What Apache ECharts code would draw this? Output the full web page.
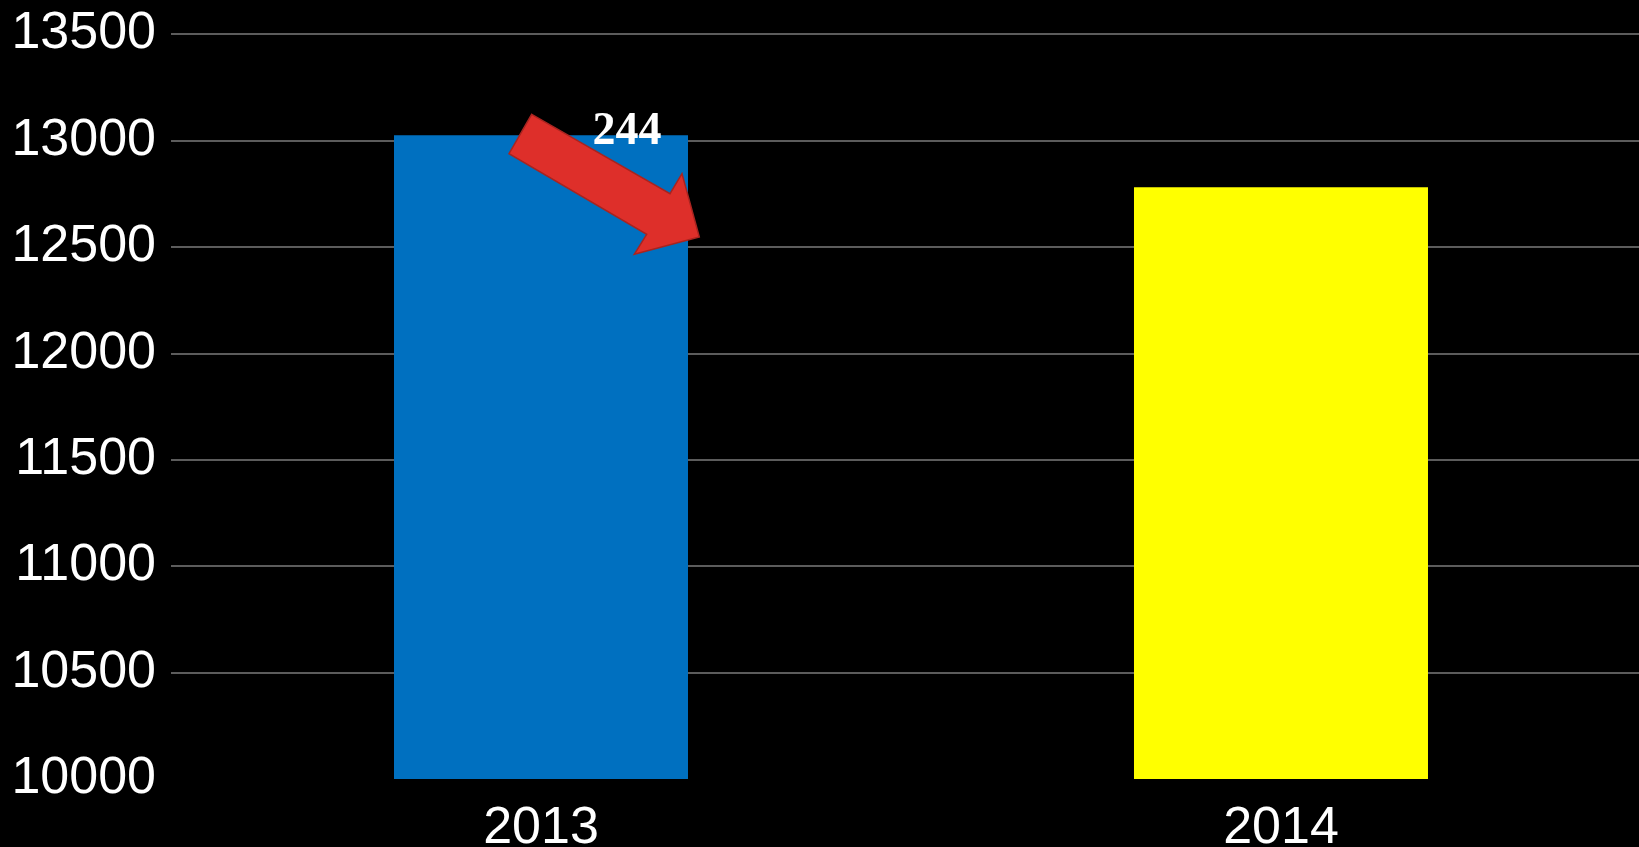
<!DOCTYPE html>
<html>
<head>
<meta charset="utf-8">
<script src="https://cdn.jsdelivr.net/npm/echarts@6/dist/echarts.min.js"></script>
<style>
  html, body { margin: 0; padding: 0; background: #000; overflow: hidden; }
  #chart { width: 1639px; height: 847px; }
</style>
</head>
<body>
<div id="chart"></div>
<script>
const categories = ['2013', '2014'];
const values = [13024, 12780];
const barColors = ['#0070C0', '#FFFF00'];
const yTicks = [10000, 10500, 11000, 11500, 12000, 12500, 13000, 13500];
const changeLabel = '244';

const chart = echarts.init(document.getElementById('chart'), null, { renderer: 'canvas' });

const gridColors = yTicks.map((t, i) => i === 0 ? 'rgba(0,0,0,0)' : '#5c5c5c');
const catIndex = categories.map((c, i) => i);

chart.setOption({
  backgroundColor: '#000000',
  animation: false,
  grid: { left: 171, right: 0, top: 34, bottom: 68, containLabel: false, outerBoundsMode: 'none' },
  xAxis: {
    type: 'value',
    min: -0.5,
    max: 1.4838,
    axisLine: { show: false },
    axisTick: { show: false },
    splitLine: { show: false },
    axisLabel: {
      customValues: catIndex,
      formatter: v => categories[Math.round(v)] || '',
      color: '#ffffff',
      fontFamily: 'Liberation Sans, Arial, sans-serif',
      fontSize: 52,
      margin: 24
    }
  },
  yAxis: {
    type: 'value',
    min: yTicks[0],
    max: yTicks[yTicks.length - 1],
    interval: 500,
    axisLine: { show: false },
    axisTick: { show: false },
    axisLabel: {
      color: '#ffffff',
      fontFamily: 'Liberation Sans, Arial, sans-serif',
      fontSize: 52,
      margin: 15,
      formatter: v => String(v)
    },
    splitLine: { show: true, lineStyle: { color: gridColors, width: 2 } }
  },
  series: [{
    type: 'bar',
    barWidth: 294,
    data: values.map((v, i) => ({ value: [catIndex[i], v], itemStyle: { color: barColors[i] } }))
  }]
});

function drawArrow() {
  const anchor = chart.convertToPixel({ xAxisIndex: 0, yAxisIndex: 0 }, [catIndex[0], values[0]]);
  const ax = anchor[0], ay = anchor[1];
  const rel = [[-9.3, -21], [129, 58.3], [141, 38.3], [158.3, 101.7], [93.3, 119], [105.7, 99], [-32, 18.3]];
  chart.setOption({
    graphic: [
      {
        type: 'polygon',
        shape: { points: rel.map(p => [ax + p[0], ay + p[1]]) },
        style: { fill: '#DE2F2A', stroke: '#A82420', lineWidth: 1.5 },
        z: 100
      },
      {
        type: 'text',
        x: ax + 86,
        y: ay - 3,
        style: {
          text: changeLabel,
          fill: '#ffffff',
          font: 'bold 46px "Liberation Serif", "Times New Roman", serif',
          textAlign: 'center',
          textVerticalAlign: 'middle'
        },
        z: 99
      }
    ]
  });
}
drawArrow();
</script>
</body>
</html>
